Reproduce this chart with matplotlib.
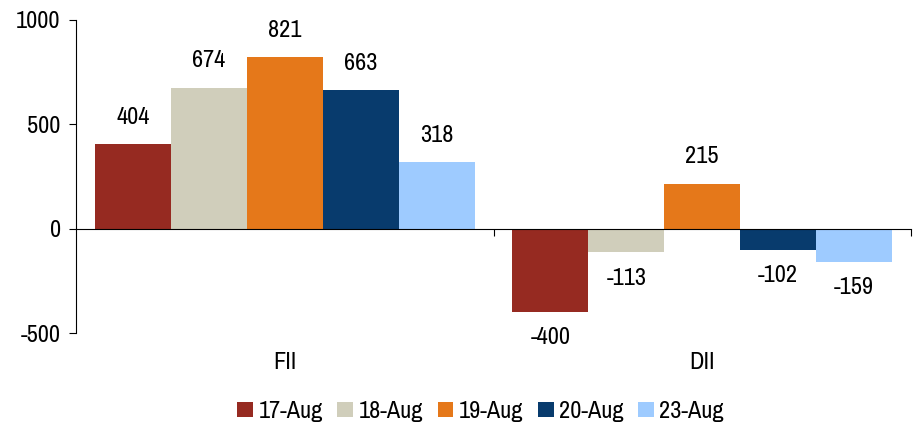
import matplotlib
matplotlib.use("Agg")
import matplotlib.pyplot as plt
import numpy as np
from matplotlib import font_manager as fm

names = {f.name for f in fm.fontManager.ttflist}
cond = [f.name for f in fm.fontManager.ttflist if 'Narrow' in f.name or 'Condensed' in f.name]
if 'Liberation Sans Narrow' in names:
    fam = ['Liberation Sans Narrow', 'DejaVu Sans']
elif cond:
    fam = [cond[0], 'DejaVu Sans']
else:
    fam = ['DejaVu Sans']
plt.rcParams['font.family'] = fam
plt.rcParams['font.stretch'] = 'condensed'
plt.rcParams['axes.unicode_minus'] = False

categories = ["FII", "DII"]
series = ["17-Aug", "18-Aug", "19-Aug", "20-Aug", "23-Aug"]
values = {
    "17-Aug": [404, -400],
    "18-Aug": [674, -113],
    "19-Aug": [821, 215],
    "20-Aug": [663, -102],
    "23-Aug": [318, -159],
}
colors = ["#962A21", "#D0CEBB", "#E5781A", "#083B6D", "#9ECBFF"]

fig = plt.figure(figsize=(9.19, 4.26), dpi=100)
ax = fig.add_axes([76/919, 1-333/426, (911-76)/919, (333-20)/426])

n = len(series)
bw = 0.182
x = np.arange(len(categories))
fs = 17.5
for i, s in enumerate(series):
    pos = x + (i - (n-1)/2) * bw
    ax.bar(pos, values[s], width=bw, color=colors[i], label=s, zorder=2)
    for p, v in zip(pos, values[s]):
        if v >= 0:
            ax.annotate(str(v), (p, v), xytext=(0, 12), textcoords='offset points',
                        ha='center', va='bottom', fontsize=fs)
        else:
            ax.annotate(str(v), (p, v), xytext=(0, -11), textcoords='offset points',
                        ha='center', va='top', fontsize=fs)

ax.set_xlim(-0.5, 1.5)
ax.set_ylim(-500, 1000)
ax.set_yticks([-500, 0, 500, 1000])
ax.tick_params(axis='y', labelsize=fs, length=5, width=0.8, pad=6)
ax.spines['top'].set_visible(False)
ax.spines['right'].set_visible(False)
ax.spines['bottom'].set_position(('data', 0))
ax.spines['bottom'].set_zorder(3)
ax.set_xticks([0.5, 1.5])
ax.set_xticklabels([])
ax.tick_params(axis='x', length=5, width=0.8, direction='out')
for xi, c in zip(x, categories):
    ax.annotate(c, (xi, -500), xytext=(0, -14), textcoords='offset points',
                ha='center', va='top', fontsize=fs, annotation_clip=False)

leg = fig.legend(loc='lower center', bbox_to_anchor=(0.523, -0.042), ncol=5, frameon=False,
                 fontsize=fs, handlelength=0.65, handleheight=0.6, handletextpad=0.22,
                 columnspacing=0.6)

fig.savefig("out.png", dpi=100)
